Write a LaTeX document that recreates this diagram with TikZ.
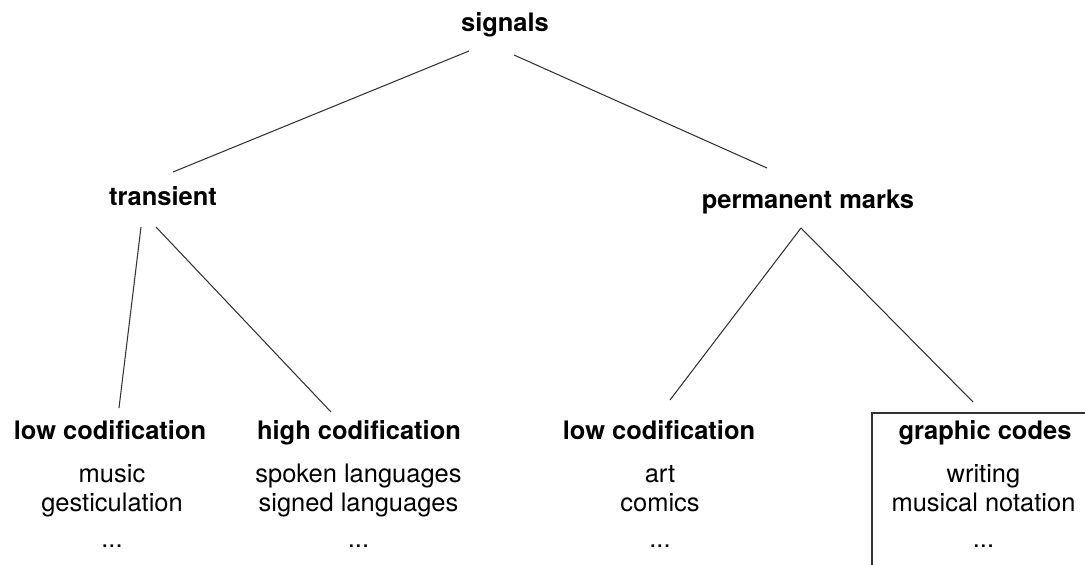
\documentclass[tikz,border=0pt]{standalone}
\usepackage{fontspec}
\setmainfont{TeX Gyre Heros}
\usepackage{xcolor}
\usepackage{tikz}

\begin{document}
\begin{tikzpicture}[
    head/.style={font=\fontsize{14.5}{17}\selectfont\bfseries, inner sep=0pt, anchor=base},
    items/.style={font=\fontsize{14.5}{16.8}\selectfont, align=center, inner sep=0pt, anchor=base},
    branch/.style={black!80, line width=0.6pt}
]
    \path[use as bounding box, clip] (0, 0) rectangle (21.7, 11.28);

    % Top levels
    \node[head] (signals) at (10.1, 10.64) {signals};
    \node[head] (transient) at (3.26, 7.16) {transient};
    \node[head] (permanent) at (16.16, 7.10) {permanent marks};

    % Bottom level
    \node[head] (lowT) at (2.2, 2.5) {low codification};
    \node[head] (highT) at (7.18, 2.5) {high codification};
    \node[head] (lowP) at (13.18, 2.5) {low codification};
    \node[head] (graphic) at (19.7, 2.5) {graphic codes};

    \node[items] (lowTlist) at (2.24, 0.34) {music\\ gesticulation\\[3.2pt] ...};
    \node[items] (highTlist) at (7.17, 0.34) {spoken languages\\ signed languages\\[3.2pt] ...};
    \node[items] (lowPlist) at (13.2, 0.34) {art\\ comics\\[3.2pt] ...};
    \node[items] (graphiclist) at (19.67, 0.34) {writing\\ musical notation\\[3.2pt] ...};

    % Box round graphic codes
    \draw[branch] (17.44, -1) |- (23, 3.02);

    % Branches
    \draw[branch] ([shift={(-0.72,-0.38)}]signals.base) -- ([shift={(0.2,0.68)}]transient.base);
    \draw[branch] ([shift={(0.18,-0.46)}]signals.base) -- ([shift={(-0.82,0.82)}]permanent.base);
    \draw[branch] ([shift={(-0.44,-0.42)}]transient.base) -- ([shift={(0.18,0.62)}]lowT.base);
    \draw[branch] ([shift={(-0.14,-0.42)}]transient.base) -- ([shift={(-0.56,0.54)}]highT.base);
    \draw[branch] ([shift={(-0.14,-0.38)}]permanent.base) -- ([shift={(0.22,0.78)}]lowP.base);
    \draw[branch] ([shift={(-0.14,-0.38)}]permanent.base) -- ([shift={(-0.24,0.74)}]graphic.base);
\end{tikzpicture}
\end{document}
